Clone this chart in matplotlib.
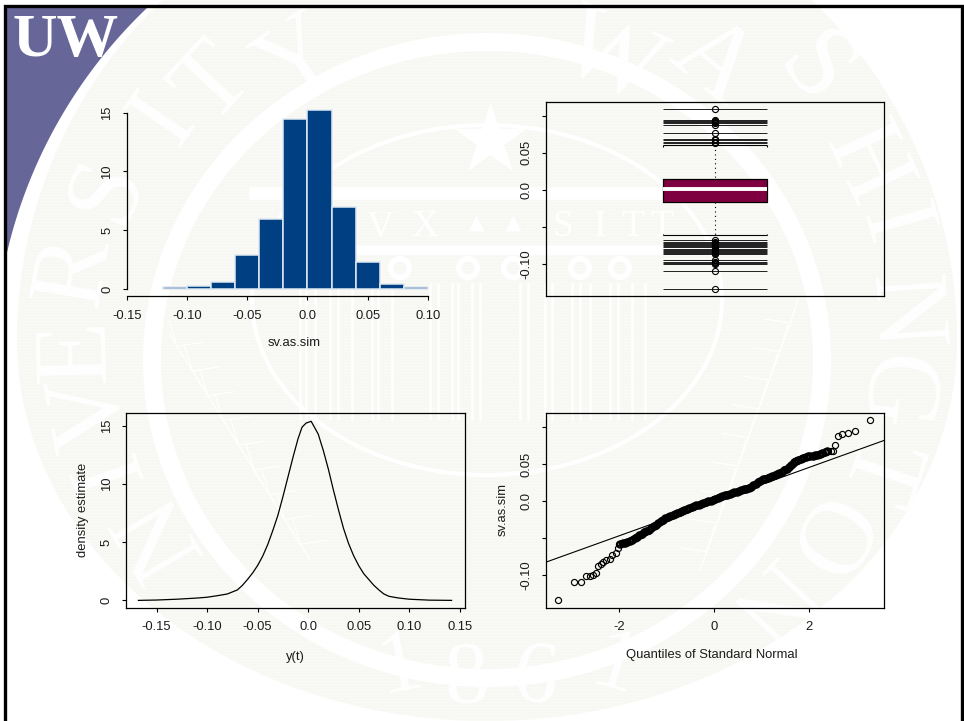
#!/usr/bin/env python3
"""Four diagnostic panels for sv.as.sim on top of the UW slide background."""
import matplotlib
matplotlib.use('Agg')
import matplotlib.pyplot as plt
import numpy as np
from matplotlib.patches import PathPatch, Polygon
from matplotlib.path import Path

W, H = 964, 721
SANS = 'Liberation Sans'
SERIF = 'Liberation Serif'
INK = '#1c1c1c'
TICK_SIZE = 9.4

# histogram
hist_edges = [-0.12, -0.10, -0.08, -0.06, -0.04, -0.02, 0.0, 0.02, 0.04, 0.06, 0.08, 0.10]
hist_density = [0.15, 0.25, 0.55, 2.85, 5.95, 14.5, 15.25, 6.95, 2.3, 0.45, 0.15]

# boxplot
box_q1, box_median, box_q3 = -0.0162, 0.0005, 0.0149
whisker_low, whisker_high = -0.0613, 0.0600
outliers_high = [0.109, 0.094, 0.0925, 0.091, 0.0895, 0.088, 0.076, 0.068, 0.0665, 0.065, 0.063]
outliers_low = [-0.0685, -0.070, -0.0715, -0.073, -0.075, -0.0765, -0.078, -0.0795, -0.081,
                -0.0825, -0.084, -0.0855, -0.087, -0.0955, -0.0975, -0.099, -0.1005, -0.110, -0.1347]

# density estimate
density_x = [-0.168, -0.15, -0.13, -0.11, -0.10, -0.09, -0.08, -0.07, -0.065, -0.06, -0.055, -0.05,
             -0.045, -0.04, -0.035, -0.03, -0.025, -0.02, -0.015, -0.01, -0.006, -0.002, 0.003, 0.01,
             0.015, 0.02, 0.025, 0.03, 0.035, 0.04, 0.045, 0.05, 0.055, 0.06, 0.065, 0.07, 0.075,
             0.08, 0.085, 0.09, 0.10, 0.12, 0.142]
density_y = [0.0, 0.03, 0.1, 0.2, 0.27, 0.4, 0.55, 0.9, 1.3, 1.8, 2.35, 3.0,
             3.8, 4.8, 6.0, 7.3, 8.9, 10.6, 12.3, 13.9, 14.9, 15.25, 15.4, 14.3,
             12.9, 11.3, 9.5, 7.8, 6.2, 4.9, 3.85, 3.0, 2.3, 1.8, 1.3, 0.9, 0.55,
             0.35, 0.27, 0.2, 0.1, 0.02, 0.0]

# normal QQ plot
qq_x = [-3.29, -2.96, -2.80, -2.70, -2.61, -2.56, -2.49, -2.45, -2.39, -2.33, -2.28, -2.19, -2.14,
        -2.07, -2.03, -2.0, -1.95, -1.9, -1.85, -1.8, -1.75, -1.7, -1.65, -1.6, -1.55, -1.5, -1.45,
        -1.4, -1.35, -1.3, -1.25, -1.2, -1.15, -1.1, -1.05, -1.0, -0.95, -0.9, -0.85, -0.8, -0.75,
        -0.7, -0.65, -0.6, -0.55, -0.5, -0.45, -0.4, -0.35, -0.3, -0.25, -0.2, -0.15, -0.1, -0.05,
        0.0, 0.05, 0.1, 0.15, 0.2, 0.25, 0.3, 0.35, 0.4, 0.45, 0.5, 0.55, 0.6, 0.65, 0.7, 0.75,
        0.8, 0.85, 0.9, 0.95, 1.0, 1.05, 1.1, 1.15, 1.2, 1.25, 1.3, 1.35, 1.4, 1.45, 1.5, 1.55,
        1.6, 1.65, 1.7, 1.75, 1.8, 1.85, 1.9, 1.95, 2.0, 2.05, 2.1, 2.15, 2.2, 2.25, 2.3, 2.35,
        2.4, 2.45, 2.5, 2.54, 2.61, 2.70, 2.81, 2.96, 3.29]
qq_y = [-0.1338, -0.1095, -0.1095, -0.101, -0.1005, -0.099, -0.0964, -0.087, -0.0847, -0.0825,
        -0.0797, -0.0775, -0.0725, -0.0694, -0.0635, -0.058, -0.0565, -0.056, -0.0553, -0.054,
        -0.0525, -0.051, -0.049, -0.047, -0.045, -0.043, -0.0412, -0.0395, -0.0375, -0.035,
        -0.033, -0.0305, -0.028, -0.0258, -0.0238, -0.0222, -0.0205, -0.0195, -0.018, -0.0168,
        -0.0155, -0.014, -0.0128, -0.0115, -0.0102, -0.0088, -0.0075, -0.0062, -0.005, -0.004,
        -0.0028, -0.0018, -0.0005, 0.0005, 0.0017, 0.003, 0.004, 0.0052, 0.0063, 0.0075, 0.0085,
        0.0095, 0.0105, 0.0115, 0.0127, 0.0135, 0.0145, 0.0155, 0.0165, 0.0175, 0.0187, 0.0205,
        0.0228, 0.025, 0.027, 0.029, 0.0302, 0.0315, 0.0325, 0.0335, 0.0345, 0.036, 0.0375,
        0.039, 0.041, 0.043, 0.0455, 0.048, 0.051, 0.054, 0.0555, 0.0568, 0.0585, 0.0597, 0.0605,
        0.061, 0.0613, 0.0618, 0.0622, 0.0632, 0.0645, 0.0655, 0.067, 0.068, 0.0685, 0.0685,
        0.0766, 0.0883, 0.091, 0.0919, 0.0946, 0.1095]
# more readings from the solid part of the band
qq_band_x = [-1.975, -1.925, -1.875, -1.825, -1.775, -1.725, -1.675, -1.625, -1.575, -1.525, -1.475,
             -1.425, -1.375, -1.325, -1.275, -1.225, -1.175, -1.125, -1.075, -1.025, -0.975, -0.925,
             -0.875, -0.825, -0.775, -0.725, -0.675, -0.625, -0.575, -0.525, -0.475, -0.425, -0.375,
             -0.325, -0.275, -0.225, -0.175, -0.125, -0.075, -0.025, 0.025, 0.075, 0.125, 0.175,
             0.225, 0.275, 0.325, 0.375, 0.425, 0.475, 0.525, 0.575, 0.625, 0.675, 0.725, 0.775,
             0.825, 0.875, 0.925, 0.975, 1.025, 1.075, 1.125, 1.175, 1.225, 1.275, 1.325, 1.375,
             1.425, 1.475, 1.525, 1.575, 1.625, 1.675, 1.725, 1.775, 1.825, 1.875, 1.925, 1.975,
             2.025, 2.075, 2.125, 2.175, 2.225, 2.275, 2.325, 2.375]
qq_band_y = [-0.0572, -0.0562, -0.0557, -0.0547, -0.0532, -0.0518, -0.05, -0.048, -0.046, -0.044,
             -0.0421, -0.0404, -0.0385, -0.0362, -0.034, -0.0318, -0.0292, -0.0269, -0.0248, -0.023,
             -0.0213, -0.02, -0.0187, -0.0174, -0.0161, -0.0148, -0.0134, -0.0121, -0.0108, -0.0095,
             -0.0081, -0.0068, -0.0056, -0.0045, -0.0034, -0.0023, -0.0011, 0.0, 0.0011, 0.0024,
             0.0035, 0.0046, 0.0058, 0.0069, 0.008, 0.009, 0.01, 0.011, 0.0121, 0.0131, 0.014, 0.015,
             0.016, 0.017, 0.0181, 0.0196, 0.0216, 0.0239, 0.026, 0.028, 0.0296, 0.0308, 0.032, 0.033,
             0.034, 0.0352, 0.0367, 0.0382, 0.04, 0.042, 0.0442, 0.0467, 0.0495, 0.0525, 0.0548,
             0.0562, 0.0576, 0.0591, 0.0601, 0.0608, 0.0612, 0.0615, 0.062, 0.0627, 0.0638, 0.065,
             0.0662, 0.0675]
qq_slope, qq_intercept = 0.0231, -0.0004

# seal lettering: glyph, centre x, centre y in slide pixels
seal_letters = [('N', 160, 533), ('I', 112, 470), ('V', 92, 410), ('E', 78, 350), ('R', 75, 270),
                ('S', 108, 190), ('I', 165, 120), ('T', 215, 85), ('Y', 300, 62),
                ('W', 610, 60), ('A', 712, 64), ('S', 813, 72), ('H', 864, 166), ('I', 890, 225),
                ('N', 900, 313), ('G', 890, 392), ('T', 875, 470), ('O', 821, 535), ('N', 767, 600)]
seal_year = [('1', 400, 667), ('8', 467, 680), ('6', 535, 680), ('1', 615, 667)]


def px_axes(fig, left, top, right, bottom):
    return fig.add_axes([left / W, 1 - bottom / H, (right - left) / W, (bottom - top) / H],
                        facecolor='none')


def style_ticks(ax):
    ax.tick_params(length=3.2, width=0.8, pad=6.5, labelsize=TICK_SIZE, labelcolor=INK)
    for lab in ax.get_yticklabels():
        lab.set_rotation(90)
        lab.set_va('center')
    for spine in ax.spines.values():
        spine.set_linewidth(0.9)


def draw_background(bg):
    bg.set_xlim(0, W)
    bg.set_ylim(H, 0)
    bg.axis('off')
    cx, cy = 487, 340

    theta = np.linspace(0, 2 * np.pi, 240)
    ry = np.where(np.sin(theta) < 0, 470, 381)
    disk_xy = np.column_stack([cx + 470 * np.cos(theta), cy + ry * np.sin(theta)])
    disk = Polygon(disk_xy, closed=True, fc='#f7f7f3', ec='none', zorder=1)
    bg.add_patch(disk)

    # fine scan stripes of the scanned seal
    stripes = bg.hlines(np.arange(0, H, 3), 0, W, color='white', lw=0.5, alpha=0.4, zorder=1.5)
    stripes.set_clip_path(disk)

    # inner white ring
    ring_t = np.linspace(0, 2 * np.pi, 240)
    bg.plot(cx + 335 * np.cos(ring_t), cy + 20 + 318 * np.sin(ring_t), color='white', lw=13, zorder=2)
    bg.plot(cx + 235 * np.cos(ring_t), cy - 40 + 175 * np.sin(ring_t), color='white', lw=3, zorder=2)

    for ch, x, y in seal_letters:
        rot = -np.degrees(np.arctan2(x - cx, cy - y))
        bg.text(x, y, ch, family=SERIF, fontsize=76, color='white', ha='center', va='center',
                rotation=rot, rotation_mode='anchor', zorder=2.5)
    for ch, x, y in seal_year:
        bg.text(x, y, ch, family=SERIF, fontsize=64, color='white', ha='center', va='center',
                rotation=(x - cx) / -8, rotation_mode='anchor', zorder=2.5)

    # centre of the seal
    bg.scatter([490], [140], marker='*', s=3000, color='white', linewidths=0, zorder=2)
    bg.plot([255, 700], [193, 193], color='white', lw=9, zorder=2)
    bg.plot([265, 700], [250, 250], color='white', lw=7, zorder=2)
    for ch, x in [('V', 380), ('X', 425), ('S', 563), ('I', 600), ('T', 633), ('T', 662)]:
        bg.text(x, 227, ch, family=SERIF, fontsize=27, color='white', ha='center', va='center', zorder=2)
    bg.scatter([476, 513], [223, 223], marker='^', s=130, color='white', linewidths=0, zorder=2)
    bg.scatter([400, 468, 513, 580, 620], [268, 268, 268, 268, 268], s=180, facecolor='none',
               edgecolor='white', linewidths=4, zorder=2)
    pillars = np.array([300, 306, 315, 330, 338, 352, 372, 378, 392, 430, 438, 452, 458, 472, 480,
                        520, 528, 545, 552, 572, 580, 590, 610, 618, 632, 645])
    bg.vlines(pillars, 283, 420, color='white', lw=1.8, zorder=2)

    # laurel branches, stem from (x0, y0) to (x1, y1)
    for x0, y0, x1, y1, side in [(170, 335, 310, 560, 1), (795, 310, 700, 570, -1)]:
        bg.plot([x0, x1], [y0, y1], color='white', lw=1.0, zorder=2)
        for frac in np.arange(0.05, 1.0, 0.11):
            xx, yy = x0 + (x1 - x0) * frac, y0 + (y1 - y0) * frac
            bg.plot([xx, xx + 26 * side], [yy, yy - 4], color='white', lw=0.9, zorder=2)
            bg.plot([xx, xx - 8 * side], [yy, yy - 26], color='white', lw=0.9, zorder=2)

    # purple corner and the logo
    a0, a1 = np.arctan2(7 - 365, 148 - 487), np.arctan2(260 - 365, 5 - 487)
    if a1 > a0:
        a1 -= 2 * np.pi
    arc = np.linspace(a0, a1, 80)
    corner = [(5, 7)] + list(zip(487 + 493 * np.cos(arc), 365 + 493 * np.sin(arc)))
    bg.add_patch(Polygon(corner, closed=True, fc='#666699', ec='none', zorder=3))
    bg.text(13, 56, 'UW', family=SERIF, weight='bold', fontsize=44.5, color='white', ha='left',
            va='baseline', zorder=4)

    # slide border, open at the bottom
    border = Path([(5, H), (5, 6), (962, 6), (962, H)])
    bg.add_patch(PathPatch(border, fc='none', ec='black', lw=2.4, zorder=5))


def put_label(bg, x, y, text, rotation=0):
    bg.text(x, y, text, family=SANS, fontsize=TICK_SIZE, color=INK, ha='center', va='center',
            rotation=rotation, zorder=6)


def main():
    plt.rcParams['font.family'] = [SANS, 'DejaVu Sans']
    fig = plt.figure(figsize=(W / 100, H / 100), dpi=100, facecolor='white')
    bg = fig.add_axes([0, 0, 1, 1])
    draw_background(bg)

    # top left: histogram, R style detached axes
    ax = px_axes(fig, 126.7, 112.7, 428, 296.4)
    widths = np.diff(hist_edges)
    ax.bar(hist_edges[:-1], hist_density, width=widths, align='edge', color='#003f82',
           edgecolor='#dfe9f2', linewidth=1.1, clip_on=False)
    ax.set_xlim(-0.15, 0.10)
    ax.set_ylim(-0.64, 15)
    ax.set_xticks([-0.15, -0.10, -0.05, 0.0, 0.05, 0.10],
                  ['-0.15', '-0.10', '-0.05', '0.0', '0.05', '0.10'])
    ax.set_yticks([0, 5, 10, 15], ['0', '5', '10', '15'])
    ax.spines[['top', 'right']].set_visible(False)
    ax.spines['left'].set_bounds(0, 15)
    style_ticks(ax)
    put_label(bg, 294, 343, 'sv.as.sim')

    # top right: boxplot with outliers drawn as full lines
    ax = px_axes(fig, 545.5, 101.7, 883.7, 296.3)
    x0, x1 = 0.346, 0.655
    mid = 0.5 * (x0 + x1)
    outliers = outliers_high + outliers_low
    ax.hlines(outliers, x0, x1, color='#202020', lw=0.7)
    ax.plot([mid] * len(outliers), outliers, 'o', mfc='none', mec='black', ms=4.4, mew=0.8)
    ax.vlines(mid, whisker_high, box_q3, color='black', lw=0.8, linestyles=(0, (1, 3)))
    ax.vlines(mid, box_q1, whisker_low, color='black', lw=0.8, linestyles=(0, (1, 3)))
    ax.hlines([whisker_low, whisker_high], x0, x1, color='black', lw=0.8)
    ax.vlines([x0, x1], whisker_high - 0.002, whisker_high, color='black', lw=0.8)
    ax.vlines([x0, x1], whisker_low, whisker_low + 0.002, color='black', lw=0.8)
    ax.fill_between([x0, x1], box_q1, box_q3, facecolor='#7f0040', edgecolor='black', lw=0.9, zorder=3)
    ax.hlines(box_median, x0, x1, color='white', lw=2.8, zorder=4)
    ax.set_xlim(0, 1)
    ax.set_ylim(-0.1440, 0.1189)
    ax.set_xticks([])
    ax.set_yticks([-0.10, -0.05, 0.0, 0.05, 0.10], ['-0.10', '', '0.0', '0.05', ''])
    style_ticks(ax)

    # bottom left: density estimate
    ax = px_axes(fig, 126.3, 413.3, 464.7, 607.7)
    ax.plot(density_x, density_y, color='black', lw=0.9)
    ax.set_xlim(-0.18, 0.155)
    ax.set_ylim(-0.63, 16.09)
    ax.set_xticks([-0.15, -0.10, -0.05, 0.0, 0.05, 0.10, 0.15],
                  ['-0.15', '-0.10', '-0.05', '0.0', '0.05', '0.10', '0.15'])
    ax.set_yticks([0, 5, 10, 15], ['0', '5', '10', '15'])
    style_ticks(ax)
    put_label(bg, 83, 510, 'density estimate', rotation=90)
    put_label(bg, 295, 657, 'y(t)')

    # bottom right: normal QQ plot
    ax = px_axes(fig, 545.5, 413.3, 883.7, 607.7)
    ax.plot(qq_x, qq_y, 'o', mfc='none', mec='black', ms=4.4, mew=0.85, ls='none')
    ax.plot(qq_band_x, qq_band_y, 'o', mfc='none', mec='black', ms=4.6, mew=1.5, ls='none')
    ax.axline((0, qq_intercept), slope=qq_slope, color='black', lw=0.8)
    ax.set_xlim(-3.55, 3.57)
    ax.set_ylim(-0.1437, 0.1189)
    ax.set_xticks([-2, 0, 2], ['-2', '0', '2'])
    ax.set_yticks([-0.10, -0.05, 0.0, 0.05, 0.10], ['-0.10', '', '0.0', '0.05', ''])
    style_ticks(ax)
    put_label(bg, 503, 510, 'sv.as.sim', rotation=90)
    put_label(bg, 712, 655, 'Quantiles of Standard Normal')

    fig.savefig('out.png', dpi=100, facecolor='white')
    plt.close(fig)


if __name__ == '__main__':
    main()
